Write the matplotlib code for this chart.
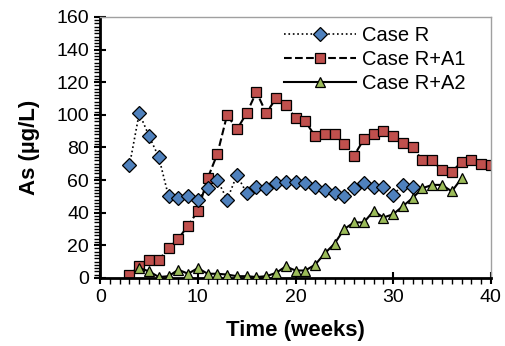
import matplotlib
matplotlib.use("Agg")
import matplotlib.pyplot as plt
from matplotlib.ticker import MultipleLocator

plt.rcParams["font.family"] = ["Liberation Sans", "DejaVu Sans"]

# Dados
semanas_r = list(range(3, 33))
case_r = [69, 101, 87, 74, 50, 49, 50, 48, 55, 60, 48, 63, 52, 56, 55, 58, 59, 59,
          58, 56, 54, 52, 50, 55, 58, 56, 56, 51, 57, 56]

semanas_a1 = list(range(3, 41))
case_a1 = [2, 7, 11, 11, 18, 24, 32, 41, 61, 76, 100, 91, 101, 114, 101, 110, 106, 98,
           96, 87, 88, 88, 82, 75, 85, 88, 90, 87, 83, 80, 72, 72, 66, 65, 71, 72, 70, 69]

semanas_a2 = list(range(4, 38))
case_a2 = [6, 4, 0.5, 1, 5, 2.5, 6, 2.5, 2.5, 2, 1, 1, 0.5, 1, 3, 7, 4.5,
           4.5, 8, 15, 21, 30, 34, 34, 41, 37, 39, 44, 49, 55, 57, 57, 53, 61]

fig, ax = plt.subplots(figsize=(5.06, 3.46), dpi=100)
fig.subplots_adjust(left=0.198, right=0.970, bottom=0.197, top=0.951)

ax.plot(semanas_r, case_r, linestyle=":", color="black", lw=1.2, marker="D", ms=7,
        mfc="#4F81BD", mec="black", mew=0.9, label="Case R", zorder=3)
ax.plot(semanas_a1, case_a1, linestyle="--", color="black", lw=1.5, marker="s", ms=6.5,
        mfc="#C0504D", mec="black", mew=0.9, label="Case R+A1", zorder=2)
ax.plot(semanas_a2, case_a2, linestyle="-", color="black", lw=1.5, marker="^", ms=7.5,
        mfc="#9BBB59", mec="black", mew=0.9, label="Case R+A2", zorder=4)

ax.set_xlim(0, 40)
ax.set_ylim(0, 160)
ax.xaxis.set_major_locator(MultipleLocator(10))
ax.xaxis.set_minor_locator(MultipleLocator(1))
ax.yaxis.set_major_locator(MultipleLocator(20))
ax.yaxis.set_minor_locator(MultipleLocator(2))
ax.tick_params(which="major", direction="inout", length=8, width=1.5, labelsize=14, pad=4)
ax.tick_params(which="minor", direction="out", length=4, width=1)

for lado in ["left", "bottom"]:
    ax.spines[lado].set_linewidth(2)
for lado in ["top", "right"]:
    ax.spines[lado].set_color("#a0a0a0")
    ax.spines[lado].set_linewidth(1)

ax.set_xlabel("Time (weeks)", fontsize=16, fontweight="bold", labelpad=10)
ax.set_ylabel("As (µg/L)", fontsize=16, fontweight="bold", labelpad=12)

ax.legend(loc="upper right", frameon=False, fontsize=14.5, handlelength=3.6,
          handletextpad=0.3, labelspacing=0.25, borderaxespad=0.2,
          bbox_to_anchor=(0.967, 1.012))

plt.savefig("out.png", dpi=100)
plt.close()
